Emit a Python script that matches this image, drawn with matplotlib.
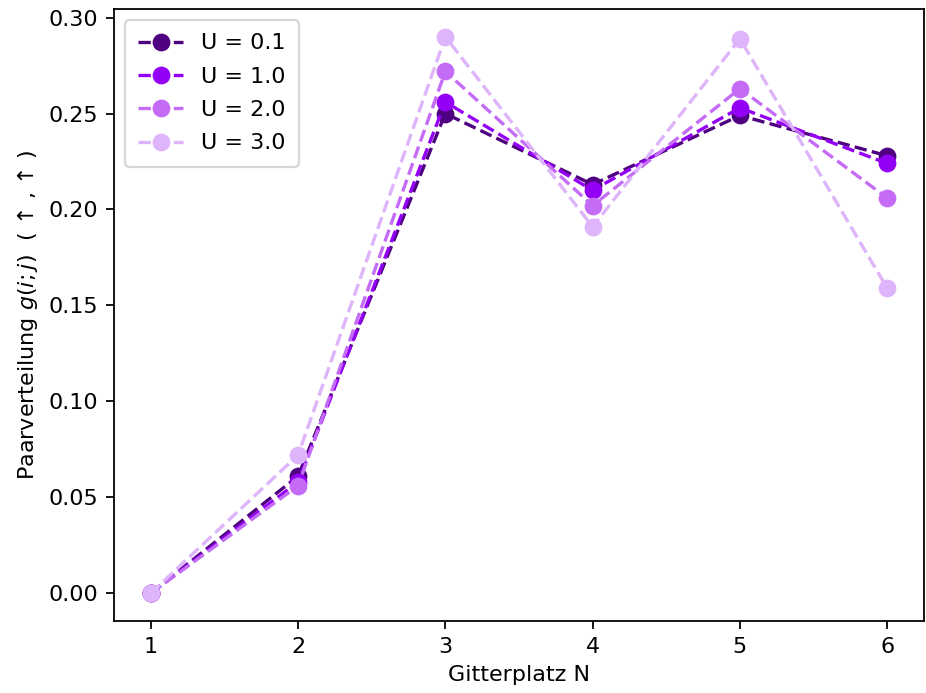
import matplotlib
matplotlib.use('Agg')
import matplotlib.pyplot as plt

sites = [1, 2, 3, 4, 5, 6]
u_values = [0.1, 1.0, 2.0, 3.0]

# g(i;j) for up-up
g_u01 = [0.0, 0.061, 0.250, 0.213, 0.249, 0.228]
g_u10 = [0.0, 0.058, 0.256, 0.210, 0.253, 0.224]
g_u20 = [0.0, 0.056, 0.272, 0.202, 0.263, 0.206]
g_u30 = [0.0, 0.072, 0.290, 0.191, 0.289, 0.159]

series = [g_u01, g_u10, g_u20, g_u30]
colors = ['#4f0080', '#9400f5', '#c46cf5', '#deb4fb']

fig, ax = plt.subplots(figsize=(926 / 160, 693 / 160), dpi=160)

for u, g, c in zip(u_values, series, colors):
    ax.plot(sites, g, '--o', color=c, label='U = %.1f' % u, markersize=7)

ax.set_xlabel('Gitterplatz N')
ax.set_ylabel('Paarverteilung $g(i;j)$  ( ↑ , ↑ )')
ax.legend(loc='upper left', labelspacing=0.6, borderpad=0.6)

plt.subplots_adjust(left=114 / 926, right=924 / 926, top=1 - 9 / 693, bottom=1 - 621 / 693)
plt.savefig('out.png')
